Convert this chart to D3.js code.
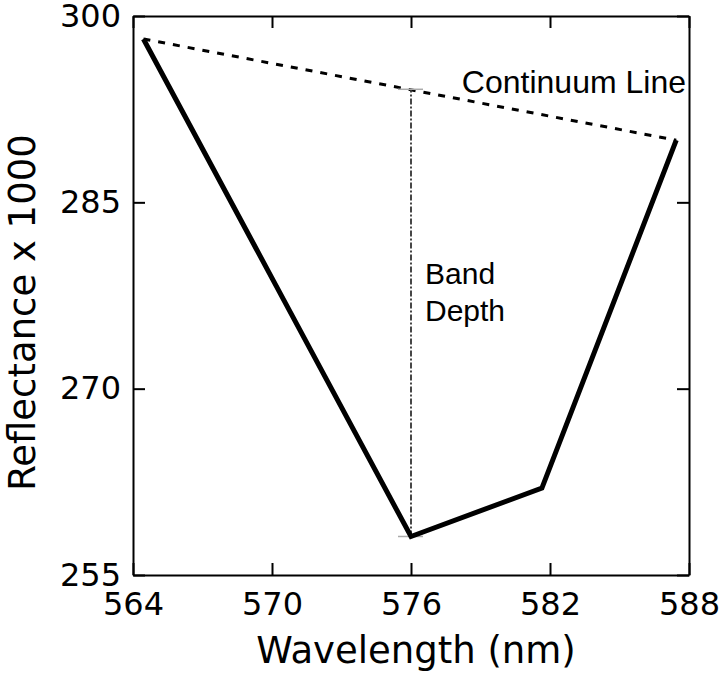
<!DOCTYPE html>
<html>
<head>
<meta charset="utf-8">
<script src="https://cdn.jsdelivr.net/npm/d3@7"></script>
<style>
  body { margin: 0; background: #fff; }
  .tick text { font-family: "DejaVu Sans", sans-serif; font-size: 32px; fill: #000; }
  .axis path, .axis line { stroke: #000; stroke-width: 2px; }
  .label { font-family: "DejaVu Sans", sans-serif; font-size: 37px; fill: #000; }
  .note { font-family: "Liberation Sans", Arial, sans-serif; font-size: 30px; fill: #000; }
</style>
</head>
<body>
<svg id="chart"></svg>
<script>
// spectrum around the absorption band
const wavelengths = [564.45, 570.0, 576.0, 581.65, 587.45];
const reflectance = [298.15, 278.9, 258.1, 262.0, 290.0];

// band depth marker (at band centre, from spectrum up to continuum)
const bandCentre = 576;
const bandLow = 258.1;
const bandHigh = 294.1;

const xTicks = [564, 570, 576, 582, 588];
const yTicks = [255, 270, 285, 300];

const svgWidth = 723;
const svgHeight = 683;
const margin = { top: 16, right: 34, bottom: 108, left: 133 };
const width = svgWidth - margin.left - margin.right;
const height = svgHeight - margin.top - margin.bottom;

const svg = d3.select('#chart')
    .attr('width', svgWidth)
    .attr('height', svgHeight)
    .append('g')
    .attr('transform', `translate(${margin.left}, ${margin.top})`);

const xScale = d3.scaleLinear().domain([564, 588]).range([0, width]);
const yScale = d3.scaleLinear().domain([255, 300]).range([height, 0]);

const points = wavelengths.map((w, i) => ({ w, r: reflectance[i] }));

// axes, ticks pointing inward
svg.append('g')
    .attr('class', 'axis')
    .attr('transform', `translate(0, ${height})`)
    .call(d3.axisBottom(xScale).tickValues(xTicks).tickFormat(d3.format('d'))
        .tickSizeInner(-12).tickSizeOuter(0).tickPadding(17));

svg.append('g')
    .attr('class', 'axis')
    .call(d3.axisTop(xScale).tickValues(xTicks).tickFormat('')
        .tickSizeInner(-12).tickSizeOuter(0));

svg.append('g')
    .attr('class', 'axis')
    .call(d3.axisLeft(yScale).tickValues(yTicks).tickFormat(d3.format('d'))
        .tickSizeInner(-12).tickSizeOuter(0).tickPadding(12));

svg.append('g')
    .attr('class', 'axis')
    .attr('transform', `translate(${width}, 0)`)
    .call(d3.axisRight(yScale).tickValues(yTicks).tickFormat('')
        .tickSizeInner(-12).tickSizeOuter(0));

// continuum line between the shoulders
const first = points[0];
const last = points[points.length - 1];
svg.append('line')
    .attr('x1', xScale(first.w))
    .attr('y1', yScale(first.r))
    .attr('x2', xScale(last.w))
    .attr('y2', yScale(last.r))
    .attr('stroke', '#000')
    .attr('stroke-width', 3)
    .attr('stroke-dasharray', '7,8');

// band depth
svg.append('line')
    .attr('x1', xScale(bandCentre))
    .attr('x2', xScale(bandCentre))
    .attr('y1', yScale(bandLow))
    .attr('y2', yScale(bandHigh))
    .attr('stroke', '#333')
    .attr('stroke-width', 1.8)
    .attr('stroke-dasharray', '6,2,2,2');

svg.selectAll('.cap')
    .data([bandLow, bandHigh])
    .enter()
    .append('line')
    .attr('class', 'cap')
    .attr('x1', xScale(bandCentre) - 13)
    .attr('x2', xScale(bandCentre) + 12)
    .attr('y1', d => yScale(d))
    .attr('y2', d => yScale(d))
    .attr('stroke', '#aaa')
    .attr('stroke-width', 1.5);

// spectrum
const line = d3.line()
    .x(d => xScale(d.w))
    .y(d => yScale(d.r));

svg.append('path')
    .datum(points)
    .attr('d', line)
    .attr('fill', 'none')
    .attr('stroke', '#000')
    .attr('stroke-width', 5)
    .attr('stroke-linejoin', 'miter');

// annotations
svg.append('text')
    .attr('class', 'note')
    .attr('x', width - 3)
    .attr('y', 77)
    .attr('text-anchor', 'end')
    .style('font-size', '32px')
    .text('Continuum Line');

svg.append('text')
    .attr('class', 'note')
    .attr('x', xScale(bandCentre) + 14)
    .attr('y', 268)
    .text('Band');

svg.append('text')
    .attr('class', 'note')
    .attr('x', xScale(bandCentre) + 14)
    .attr('y', 305)
    .text('Depth');

// axis labels
svg.append('text')
    .attr('class', 'label')
    .attr('x', width / 2 + 5)
    .attr('y', height + 88)
    .attr('text-anchor', 'middle')
    .text('Wavelength (nm)');

svg.append('text')
    .attr('class', 'label')
    .attr('transform', 'rotate(-90)')
    .attr('x', -(height / 2) - 17)
    .attr('y', -98)
    .attr('text-anchor', 'middle')
    .text('Reflectance x 1000');
</script>
</body>
</html>
